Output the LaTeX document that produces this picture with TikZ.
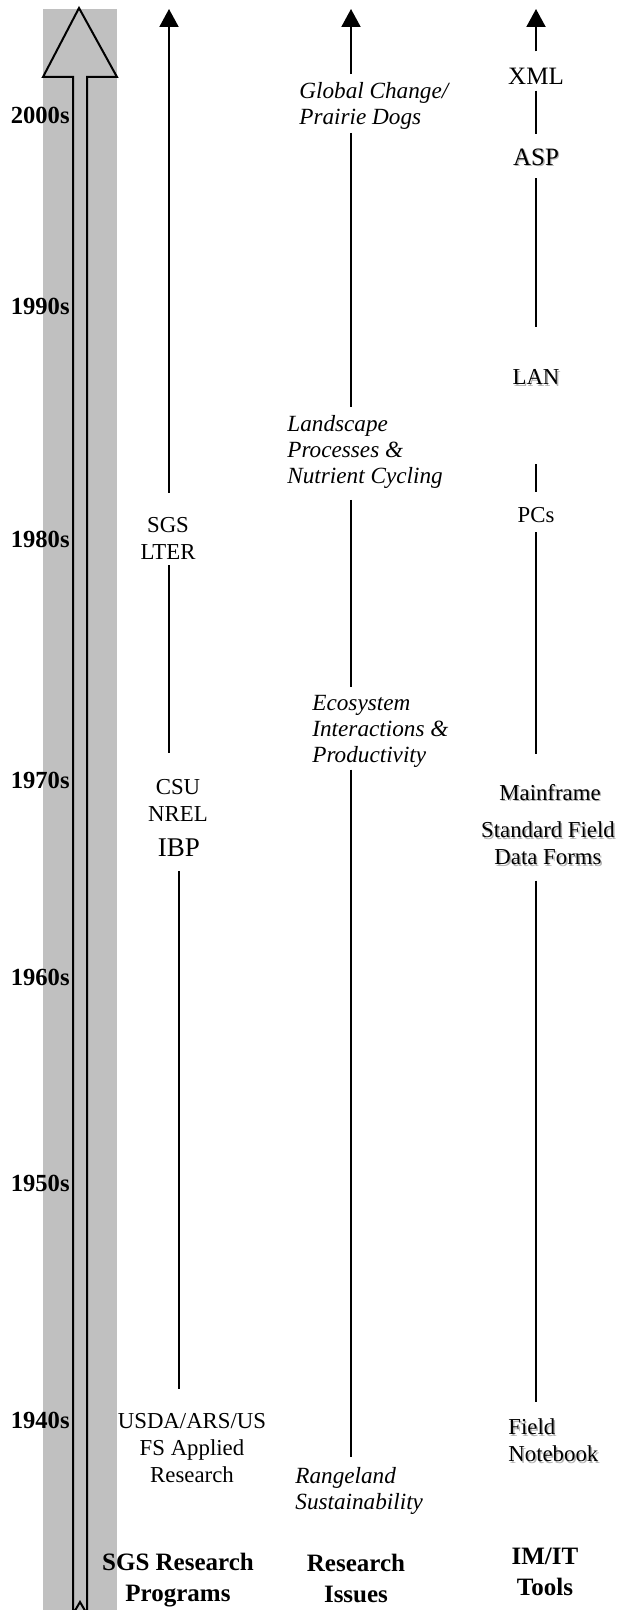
\documentclass[tikz,border=0pt]{standalone}
\usepackage{fontspec}
\setmainfont{Liberation Serif}
\usepackage{tikz}
\usetikzlibrary{arrows.meta}
\definecolor{bargray}{RGB}{192,192,192}
\newcommand\shadowed[1]{\makebox[0pt][l]{\kern0.7pt\raisebox{-0.7pt}{\textcolor{black!30}{#1}}}#1}

\begin{document}
\begin{tikzpicture}[x=0.5pt,y=-0.5pt,
  lbl/.style={inner sep=0pt,align=center,font=\fontsize{11.4}{13.5}\selectfont},
  issue/.style={inner sep=0pt,align=left,anchor=west,font=\fontsize{11.6}{13}\selectfont\itshape},
  big/.style={inner sep=0pt,font=\fontsize{12.5}{15}\selectfont},
  decade/.style={inner sep=0pt,anchor=east,font=\fontsize{12.3}{14}\selectfont\bfseries},
  head/.style={inner sep=0pt,align=center,font=\fontsize{12.5}{15.5}\selectfont\bfseries},
  tl/.style={line width=1pt},
  up/.style={tl,-{Triangle[length=9pt,width=9.5pt]}}]
  \useasboundingbox (0,0) rectangle (618,1610);
  % time bar with hollow arrow
  \fill[bargray] (43,9) rectangle (117,1610);
  \draw[line width=1pt] (73,1614) -- (73,77) -- (43,77) -- (79,8) -- (117,77) -- (87,77) -- (87,1614) -- (80,1602) -- cycle;
  \foreach \yr/\y in {2000/115,1990/306,1980/539,1970/780,1960/977,1950/1183,1940/1420}
    \node[decade] (d\yr) at (70,\y) {\yr s};

  % research programs
  \coordinate (c1) at (169,9);
  \node[lbl] (sgs) at (168,538) {SGS\\LTER};
  \node[lbl] (csu) at (178,800) {CSU\\NREL};
  \node[big,font=\fontsize{13.5}{16}\selectfont] (ibp) at (179,848) {IBP};
  \node[lbl] (usda) at (192,1448) {USDA/ARS/US\\FS Applied\\Research};
  \draw[up,shorten <=12pt] (c1 |- sgs.north) -- (c1);
  \draw[tl,shorten <=3pt,shorten >=13pt] (c1 |- sgs.south) -- (c1 |- csu.north);
  \draw[tl,shorten <=7pt,shorten >=12pt] (ibp.south) -- (ibp.south |- usda.north);

  % research issues
  \coordinate (c2) at (351,9);
  \node[issue] (glob) at (299,106) {Global Change/\\Prairie Dogs};
  \node[issue] (land) at (287,452) {Landscape\\Processes \&\\Nutrient Cycling};
  \node[issue] (eco) at (312,731) {Ecosystem\\Interactions \&\\Productivity};
  \node[issue] (range) at (295,1491) {Rangeland\\Sustainability};
  \draw[up,shorten <=4pt] (c2 |- glob.north) -- (c2);
  \draw[tl,shorten <=1.5pt,shorten >=4pt] (c2 |- glob.south) -- (c2 |- land.north);
  \draw[tl,shorten <=5.5pt,shorten >=4pt] (c2 |- land.south) -- (c2 |- eco.north);
  \draw[tl,shorten <=1pt,shorten >=5pt] (c2 |- eco.south) -- (c2 |- range.north);

  % IM/IT tools
  \coordinate (c3) at (536,9);
  \node[big] (xml) at (536,76) {XML};
  \node[big] (asp) at (536,158) {\shadowed{ASP}};
  \node[lbl] (lan) at (536,378) {\shadowed{LAN}};
  \node[lbl] (pcs) at (536,515) {PCs};
  \node[lbl] (main) at (550,793) {\shadowed{Mainframe}};
  \node[lbl] (std) at (548,844) {\shadowed{Standard Field}\\\shadowed{Data Forms}};
  \node[lbl,align=left,anchor=west] (field) at (508,1441) {\shadowed{Field}\\\shadowed{Notebook}};
  \coordinate (aspend) at (536,327);
  \coordinate (pcstop) at (536,464);
  \draw[up,shorten <=8pt] (xml.north) -- (c3);
  \draw[tl,shorten <=3pt,shorten >=7pt] (xml.south) -- (asp.north);
  \draw[tl,shorten <=5.5pt] (asp.south) -- (aspend);
  \draw[tl,shorten >=7.5pt] (pcstop) -- (pcs.north);
  \draw[tl,shorten <=4.5pt,shorten >=15pt] (pcs.south) -- (c3 |- main.north);
  \draw[tl,shorten <=7pt,shorten >=8pt] (c3 |- std.south) -- (c3 |- field.north);

  % column headings
  \node[head] (hprog) at (178,1580) {SGS Research\\Programs};
  \node[head] (hiss) at (356,1578) {Research\\Issues};
  \node[head] (htool) at (545,1572) {IM/IT\\Tools};
\end{tikzpicture}
\end{document}
